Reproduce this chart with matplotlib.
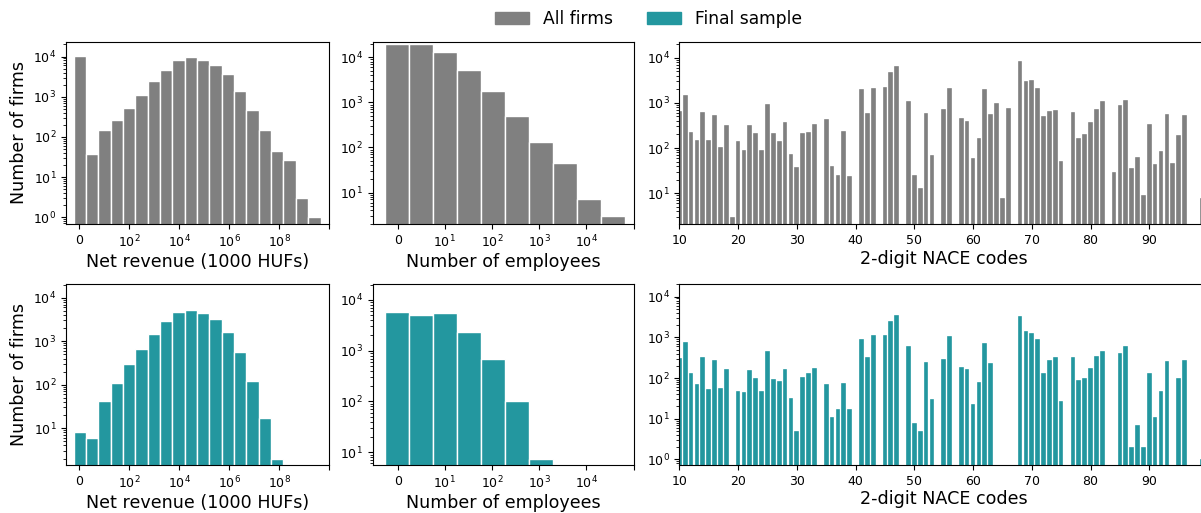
import numpy as np
import matplotlib
matplotlib.use("Agg")
import matplotlib.pyplot as plt
import matplotlib.patches as mpatches

# ─── Datos ────────────────────────────────────────────────────────────────────
GRAY = "#808080"
TEAL = "#23979f"

# revenue histogram, x in log10 units (0 = no revenue)
rev_bin_start = -0.22
rev_bin_width = 0.494
rev_all = [10500, 37, 145, 260, 510, 1100, 2450, 4600, 8000, 9600,
           8000, 6200, 3600, 1400, 480, 145, 45, 26, 3, 1]
rev_final = [8, 6, 43, 109, 292, 646, 1470, 2970, 4790, 5130,
             4530, 3190, 1660, 580, 124, 17, 2]
rev_ticks = [0, 2, 4, 6, 8, 10]
rev_ticklabels = ["0", "$10^2$", "$10^4$", "$10^6$", "$10^8$", ""]

# employees histogram
emp_bin_start = -0.26
emp_bin_width = 0.508
emp_all = [19800, 19600, 13400, 5300, 1800, 497, 131, 45, 7.1, 3]
emp_final = [5890, 5060, 5620, 2300, 685, 103, 7.4]
emp_ticks = [0, 1, 2, 3, 4, 5]
emp_ticklabels = ["0", "$10^1$", "$10^2$", "$10^3$", "$10^4$", ""]

# 2-digit NACE codes
nace_all_codes = [10, 11, 12, 13, 14, 15, 16, 17, 18, 19, 20, 21, 22, 23, 24,
                  25, 26, 27, 28, 29, 30, 31, 32, 33, 35, 36, 37, 38, 39, 41,
                  42, 43, 45, 46, 47, 49, 50, 51, 52, 53, 55, 56, 58, 59, 60,
                  61, 62, 63, 64, 65, 66, 68, 69, 70, 71, 72, 73, 74, 75, 77,
                  78, 79, 80, 81, 82, 84, 85, 86, 87, 88, 89, 90, 91, 92, 93,
                  94, 95, 96, 99]
nace_all = [655, 1450, 226, 153, 625, 153, 527, 103, 317, 3, 145, 92, 317, 211, 92,
            918, 211, 145, 376, 74, 39, 211, 226, 333, 445, 41, 25, 238, 24, 2000,
            594, 2150, 2260, 4690, 6330, 1090, 25, 13, 594, 72, 740, 2150, 470, 402, 59,
            169, 2000, 555, 966, 8, 778, 8300, 3020, 3180, 2150, 500, 655, 690, 52, 625,
            164, 200, 376, 740, 1090, 30, 877, 1150, 36, 65, 9, 333, 44, 86, 555,
            47, 190, 527, 8]
nace_final_codes = [10, 11, 12, 13, 14, 15, 16, 17, 18, 20, 21, 22, 23, 24, 25,
                    26, 27, 28, 29, 30, 31, 32, 33, 35, 36, 37, 38, 39, 41, 42,
                    43, 45, 46, 47, 49, 50, 51, 52, 53, 55, 56, 58, 59, 60, 61,
                    62, 63, 68, 69, 70, 71, 72, 73, 74, 75, 77, 78, 79, 80, 81,
                    82, 85, 86, 87, 88, 89, 90, 91, 92, 93, 95, 96, 99]
nace_final = [306, 755, 130, 70, 333, 55, 276, 58, 166, 48, 45, 157, 102, 48, 454,
              96, 85, 166, 33, 5, 108, 130, 179, 70, 11, 17, 75, 17, 894, 333,
              1160, 1160, 2470, 3590, 614, 8, 5, 246, 31, 297, 1080, 190, 169, 23, 80,
              713, 228, 3390, 1400, 1250, 910, 130, 276, 333, 28, 333, 91, 102, 179, 352,
              454, 410, 614, 2, 7, 2, 130, 11, 48, 261, 102, 276, 1]

LABEL_FS = 12.6
LEGEND_FS = 12.3
TICK_FS = 9

# ─── Figura ───────────────────────────────────────────────────────────────────
W, H = 1201, 513
fig = plt.figure(figsize=(W / 100, H / 100), dpi=100)


def px_axes(x0, y0, x1, y1):
    return fig.add_axes([x0 / W, 1 - y1 / H, (x1 - x0) / W, (y1 - y0) / H])


def hist_bars(ax, start, width, counts, color):
    edges = start + width * np.arange(len(counts))
    ax.bar(edges, counts, width=width, align="edge", color=color,
           edgecolor="white", linewidth=1.0)


rows = [
    (42, 224, rev_all, emp_all, nace_all_codes, nace_all, GRAY,
     (0.68, 23000), (2.0, 22000), (2.1, 22000)),
    (283.5, 465, rev_final, emp_final, nace_final_codes, nace_final, TEAL,
     (1.42, 21300), (5.6, 21000), (0.73, 21000)),
]

for (y0, y1, rev, emp, codes, nace, color, yl1, yl2, yl3) in rows:
    # revenue
    ax = px_axes(66, y0, 329, y1)
    hist_bars(ax, rev_bin_start, rev_bin_width, rev, color)
    ax.set_yscale("log")
    ax.set_ylim(*yl1)
    ax.set_xlim(-0.53, 10.0)
    ax.set_xticks(rev_ticks)
    ax.set_xticklabels(rev_ticklabels)
    ax.set_xlabel("Net revenue (1000 HUFs)", fontsize=LABEL_FS, labelpad=2)
    ax.set_ylabel("Number of firms", fontsize=LABEL_FS)
    ax.tick_params(labelsize=TICK_FS)

    # employees
    ax = px_axes(372.7, y0, 633.5, y1)
    hist_bars(ax, emp_bin_start, emp_bin_width, emp, color)
    ax.set_yscale("log")
    ax.set_ylim(*yl2)
    ax.set_xlim(-0.53, 5.0)
    ax.set_xticks(emp_ticks)
    ax.set_xticklabels(emp_ticklabels)
    ax.set_xlabel("Number of employees", fontsize=LABEL_FS, labelpad=2)
    ax.tick_params(labelsize=TICK_FS)

    # NACE codes (right edge runs past the figure, as in the original crop)
    ax = px_axes(679.3, y0, 1208, y1)
    ax.bar(codes, nace, width=0.8, color=color, edgecolor="white", linewidth=0.25)
    ax.set_yscale("log")
    ax.set_ylim(*yl3)
    ax.set_xlim(10, 100)
    ax.set_xticks(range(10, 100, 10))
    ax.set_xlabel("2-digit NACE codes", fontsize=LABEL_FS, labelpad=2)
    ax.tick_params(labelsize=TICK_FS)

handles = [mpatches.Patch(color=GRAY, label="All firms"),
           mpatches.Patch(color=TEAL, label="Final sample")]
fig.legend(handles=handles, loc="center", bbox_to_anchor=(0.54, 1 - 19 / H),
           ncol=2, frameon=False, fontsize=LEGEND_FS)

fig.savefig("out.png", dpi=100)
